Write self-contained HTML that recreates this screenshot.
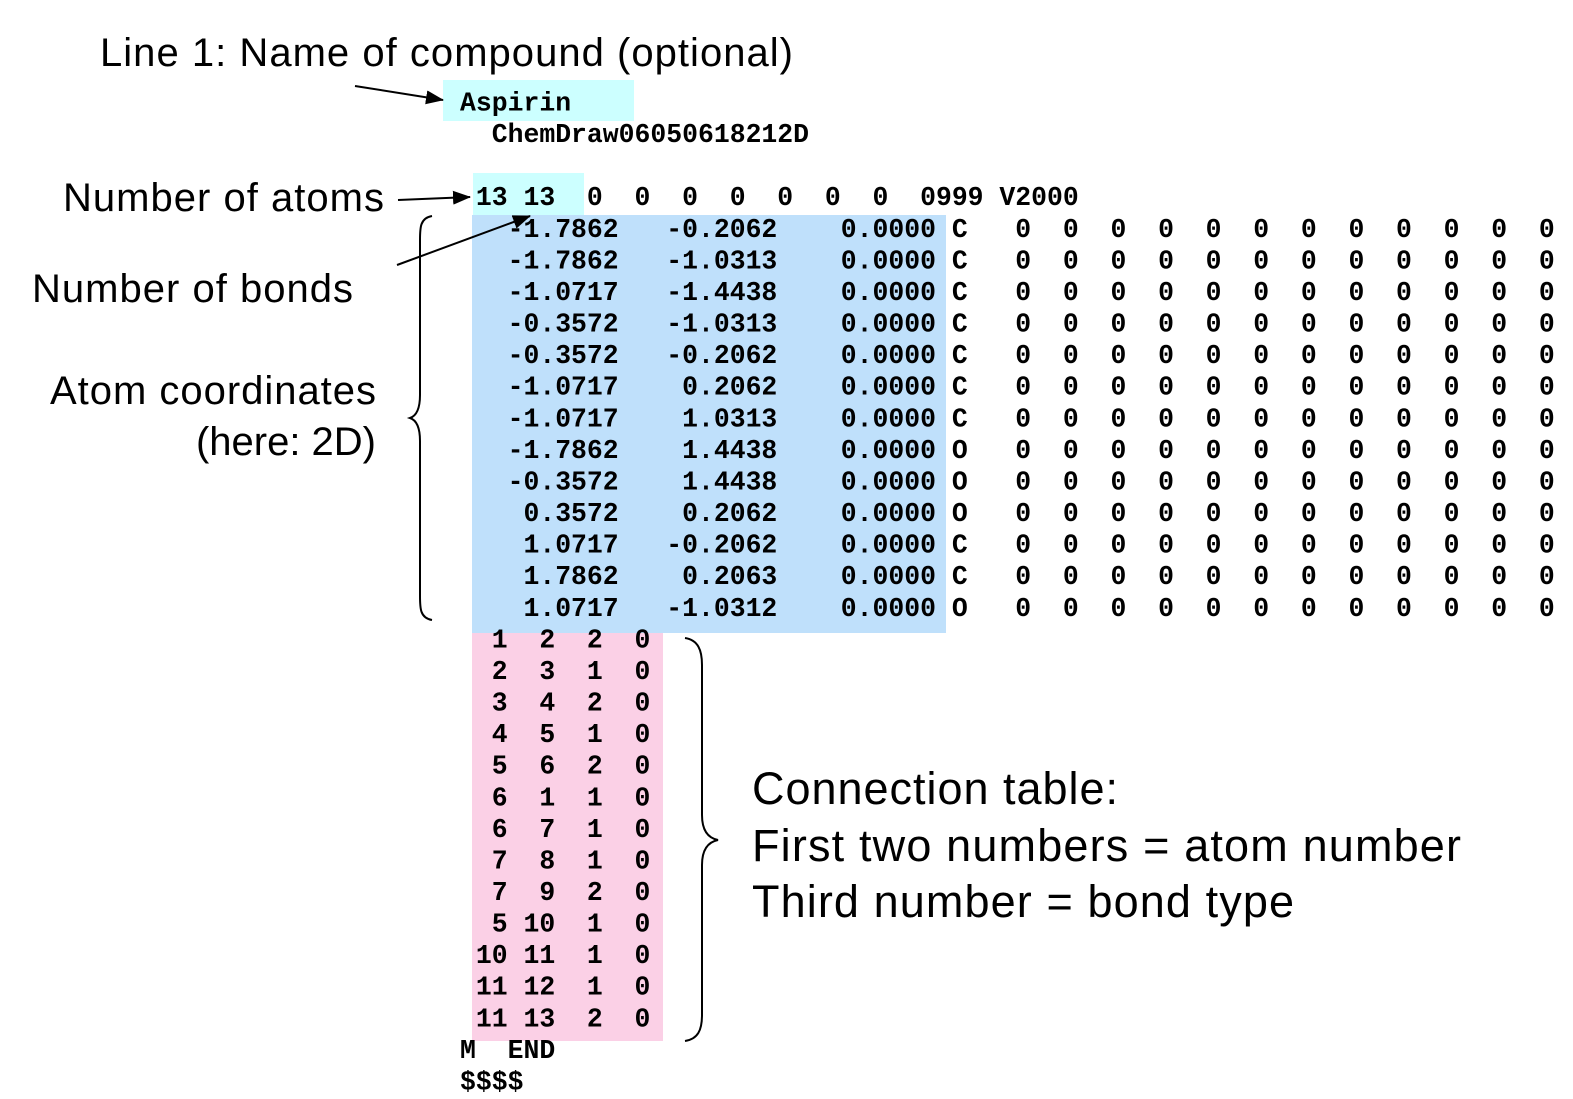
<!DOCTYPE html>
<html><head><meta charset="utf-8"><style>
html,body{margin:0;padding:0;background:#fff;}
svg{display:block;}
.m{font-family:"Liberation Mono",monospace;font-weight:bold;font-size:26.45px;white-space:pre;fill:#000;}
.s{font-family:"Liberation Sans",Arial,sans-serif;fill:#000;}
</style></head><body>
<svg id="root" width="1573" height="1099" viewBox="0 0 1573 1099" xmlns="http://www.w3.org/2000/svg">
<defs><marker id="ah" markerWidth="18" markerHeight="14" refX="17" refY="7" orient="auto" markerUnits="userSpaceOnUse"><path d="M0,0 L18,7 L0,14 Z" fill="#000"/></marker></defs>
<rect x="443" y="80" width="191" height="41" fill="#ccffff"/>
<rect x="473" y="173" width="111" height="42" fill="#ccffff"/>
<rect x="472" y="215" width="474" height="418" fill="#bfe0fb"/>
<rect x="472" y="633" width="191" height="408" fill="#fbd0e6"/>
<g id="lines"></g>
<text class="s" x="100" y="66" font-size="40" textLength="693">Line 1: Name of compound (optional)</text>
<text class="s" x="63" y="211" font-size="40" textLength="321">Number of atoms</text>
<text class="s" x="32" y="302" font-size="40" textLength="321">Number of bonds</text>
<text class="s" x="50" y="404" font-size="40" textLength="326">Atom coordinates</text>
<text class="s" x="376" y="455" font-size="40" text-anchor="end">(here: 2D)</text>
<text class="s" x="752" y="804" font-size="45" textLength="366">Connection table:</text>
<text class="s" x="752" y="861" font-size="45" textLength="709">First two numbers = atom number</text>
<text class="s" x="752" y="917" font-size="45" textLength="542">Third number = bond type</text>
<line x1="355" y1="86" x2="443" y2="100" stroke="#000" stroke-width="2" marker-end="url(#ah)"/>
<line x1="398" y1="200" x2="470" y2="197" stroke="#000" stroke-width="2" marker-end="url(#ah)"/>
<line x1="397" y1="265" x2="530" y2="216" stroke="#000" stroke-width="2" marker-end="url(#ah)"/>
<path d="M432,216 C420,218 420,228 420,240 L420,395 C420,410 416,416 410,418 C416,420 420,426 420,441 L420,596 C420,608 420,618 432,620" fill="none" stroke="#000" stroke-width="2"/>
<path d="M685,638 C698,640 702,650 702,665 L702,815 C702,830 708,838 718,840 C708,842 702,850 702,865 L702,1015 C702,1030 698,1039 685,1041" fill="none" stroke="#000" stroke-width="2"/>
</svg>
<script>
var atomX=["-1.7862","-1.7862","-1.0717","-0.3572","-0.3572","-1.0717","-1.0717","-1.7862","-0.3572","0.3572","1.0717","1.7862","1.0717"];
var atomY=["-0.2062","-1.0313","-1.4438","-1.0313","-0.2062","0.2062","1.0313","1.4438","1.4438","0.2062","-0.2062","0.2063","-1.0312"];
var atomEl=["C","C","C","C","C","C","C","O","O","O","C","C","O"];
var bondA=[1,2,3,4,5,6,6,7,7,5,10,11,11];
var bondB=[2,3,4,5,6,1,7,8,9,10,11,12,13];
var bondT=[2,1,2,1,2,1,1,1,2,1,1,1,2];
function pad(s,n){s=String(s);while(s.length<n)s=" "+s;return s;}
var lines=["Aspirin","  ChemDraw06050618212D",""," 13 13  0  0  0  0  0  0  0  0999 V2000"];
for(var i=0;i<atomX.length;i++){
  var z="";for(var k=0;k<12;k++)z+="  0";
  lines.push(pad(atomX[i],10)+pad(atomY[i],10)+pad("0.0000",10)+" "+atomEl[i]+" "+z);
}
for(var j=0;j<bondA.length;j++){lines.push(pad(bondA[j],3)+pad(bondB[j],3)+pad(bondT[j],3)+"  0");}
lines.push("M  END");lines.push("$$$$");
var g=document.getElementById("lines");
for(var n=0;n<lines.length;n++){
  var t=document.createElementNS("http://www.w3.org/2000/svg","text");
  t.setAttribute("class","m");
  t.setAttribute("x","460");
  t.setAttribute("y",String(110.5+n*31.58));
  
  
  t.textContent=lines[n];
  g.appendChild(t);
}
</script>
</body></html>
